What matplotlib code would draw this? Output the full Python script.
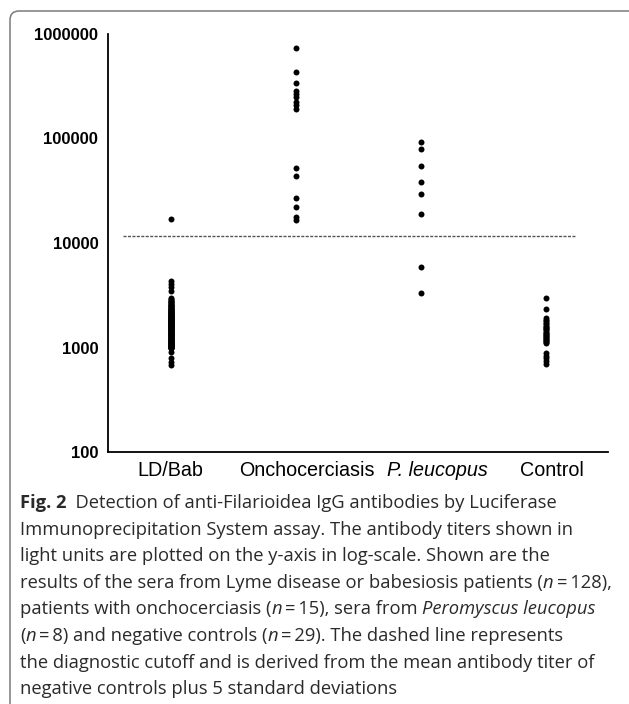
import numpy as np
import matplotlib.pyplot as plt
from matplotlib.path import Path
from matplotlib.patches import PathPatch
from matplotlib.ticker import NullLocator
from matplotlib.transforms import ScaledTranslation

# group names and antibody titers (light units)
groups = ["LD/Bab", "Onchocerciasis", "P. leucopus", "Control"]

ld_bab = [17000, 4330, 4060, 3800, 3480, 910, 795, 730, 685,
          2980, 2900, 2850, 2790, 2740, 2700, 2650, 2610, 2570, 2540,
          2500, 2470, 2440, 2410, 2380, 2350, 2320, 2300, 2270, 2250,
          2230, 2200, 2180, 2160, 2140, 2120, 2100, 2080, 2060, 2040,
          2020, 2000, 1985, 1970, 1950, 1935, 1920, 1900, 1885, 1870,
          1855, 1840, 1825, 1810, 1795, 1780, 1765, 1750, 1735, 1720,
          1710, 1695, 1680, 1670, 1655, 1640, 1630, 1615, 1600, 1590,
          1575, 1560, 1550, 1535, 1520, 1510, 1495, 1480, 1470, 1455,
          1440, 1430, 1415, 1400, 1390, 1375, 1360, 1350, 1335, 1320,
          1310, 1295, 1280, 1270, 1255, 1240, 1230, 1215, 1200, 1190,
          1175, 1160, 1150, 1135, 1120, 1110, 1095, 1080, 1070, 1060,
          1050, 1040, 1030, 1020, 1010, 1000, 995, 990, 1005, 1025,
          1045, 1065, 1100, 1140, 1180, 1260, 1380, 1530, 1760]
onchocerciasis = [740000, 436000, 337000, 287000, 267000, 248000, 225000,
                  209000, 190000, 52500, 43700, 26800, 22000, 17900, 16600]
p_leucopus = [92000, 79400, 54600, 38400, 29300, 18800, 5930, 3300]
control = [2960, 2330, 1900, 1840, 1780, 1720, 1670, 1620, 1580, 1540,
           1500, 1460, 1420, 1390, 1360, 1330, 1300, 1270, 1240, 1210,
           1180, 1150, 1120, 1100, 880, 830, 790, 750, 700]
cutoff = 11700

yticks = [100, 1000, 10000, 100000, 1000000]

W, H = 629, 704
fig = plt.figure(figsize=(W / 100, H / 100), dpi=100)
ax = fig.add_axes([108 / W, 1 - 452 / H, 500 / W, 418 / H])

# rounded frame at top-left, like the journal layout
verts = [(10 / W, 0), (10 / W, 1 - 20 / H), (10 / W, 1 - 11 / H), (19 / W, 1 - 11 / H), (1, 1 - 11 / H)]
codes = [Path.MOVETO, Path.LINETO, Path.CURVE3, Path.CURVE3, Path.LINETO]
fig.add_artist(PathPatch(Path(verts, codes), transform=fig.transFigure,
                         fill=False, edgecolor="#7a7a7a", lw=1.1))

for i, vals in enumerate([ld_bab, onchocerciasis, p_leucopus, control]):
    ax.plot(np.full(len(vals), i), vals, "o", ms=4.3, color="black", mec="none")

ax.axhline(cutoff, xmin=0.03, xmax=0.934, color="#555555", lw=1.0, dashes=(2.2, 1.0))

ax.set_yscale("log")
ax.set_ylim(100, 1000000)
ax.set_xlim(-0.5, 3.5)
ax.set_yticks(yticks)
ax.set_yticklabels([str(t) for t in yticks], fontfamily="Liberation Sans",
                   fontweight="bold", fontsize=12)
ax.yaxis.set_minor_locator(NullLocator())
ax.set_xticks([])
ax.tick_params(axis="y", length=0, pad=7)
for s in ["top", "right"]:
    ax.spines[s].set_visible(False)
for s in ["left", "bottom"]:
    ax.spines[s].set_linewidth(1.3)

# category labels sit a little right of the dot columns in the original
label_shift = [0, 11, 17, 6]
for i, name in enumerate(groups):
    tr = ax.get_xaxis_transform() + ScaledTranslation(label_shift[i] / 100, -18 / 100, fig.dpi_scale_trans)
    ax.text(i, 0, name, transform=tr, ha="center", va="center", fontfamily="Liberation Sans",
            fontsize=14.2, fontstyle="italic" if i == 2 else "normal")

# caption, drawn segment by segment so italic/bold parts sit inline
cap_font = "Open Sans"
cap_color = "#2a2a2a"
caption = [
    [("Fig. 2", "bold"), ("  Detection of anti-Filarioidea IgG antibodies by Luciferase", "normal")],
    [("Immunoprecipitation System assay. The antibody titers shown in", "normal")],
    [("light units are plotted on the y-axis in log-scale. Shown are the", "normal")],
    [("results of the sera from Lyme disease or babesiosis patients (", "normal"), ("n", "italic"),
     ("\u2009=\u2009128),", "normal")],
    [("patients with onchocerciasis (", "normal"), ("n", "italic"), ("\u2009=\u200915), sera from ", "normal"),
     ("Peromyscus leucopus", "italic")],
    [("(", "normal"), ("n", "italic"), ("\u2009=\u20098) and negative controls (", "normal"), ("n", "italic"),
     ("\u2009=\u200929). The dashed line represents", "normal")],
    [("the diagnostic cutoff and is derived from the mean antibody titer of", "normal")],
    [("negative controls plus 5 standard deviations", "normal")],
]

renderer = fig.canvas.get_renderer()


def seg_kw(style):
    kw = dict(fontfamily=cap_font, fontsize=13.2, color=cap_color)
    if style == "bold":
        kw["fontweight"] = "bold"
    elif style == "italic":
        kw["fontstyle"] = "italic"
    return kw


def seg_width(s, style):
    a = fig.text(0, 0, s + "x", **seg_kw(style))
    b = fig.text(0, 0, "x", **seg_kw(style))
    w = a.get_window_extent(renderer).width - b.get_window_extent(renderer).width
    a.remove()
    b.remove()
    return w


for k, line in enumerate(caption):
    x = 20
    y = 508 + k * 26.6
    for s, style in line:
        fig.text(x / W, 1 - y / H, s, va="baseline", ha="left", **seg_kw(style))
        x += seg_width(s, style)

fig.savefig("out.png", dpi=100)
